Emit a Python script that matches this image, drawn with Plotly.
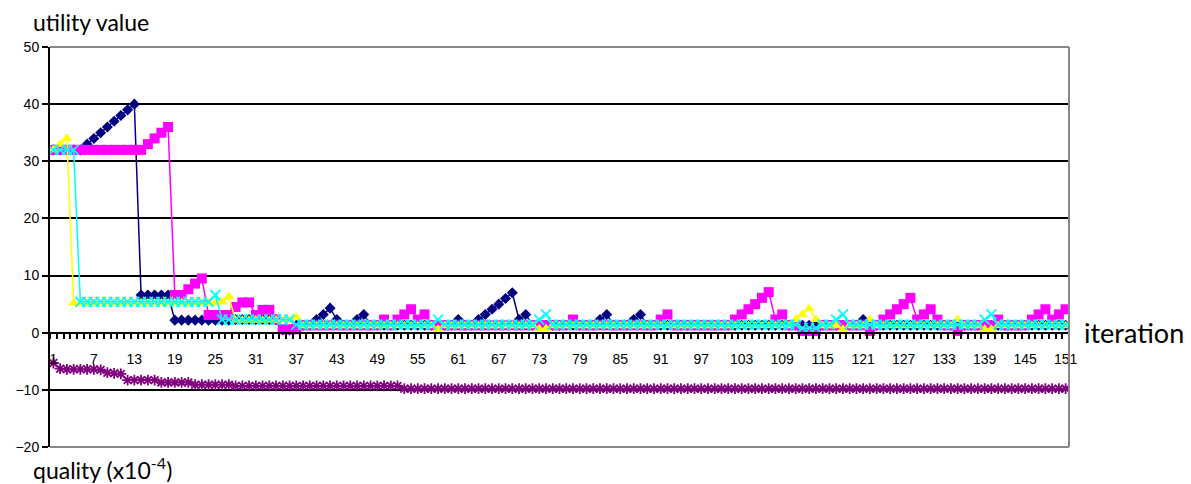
import plotly.graph_objects as go

# Iteration index (category axis) and the labelled ticks, every 6th iteration
iterations = list(range(1, 152))
tick_iterations = list(range(1, 152, 6))

# Utility value of agent 1 (navy diamonds)
agent_1 = [
    32, 32, 32, 32, 32, 33, 34, 35, 36, 37,
    38, 39, 40, 6.6, 6.6, 6.6, 6.6, 6.6, 2.2, 2.2,
    2.2, 2.2, 2.2, 2.2, 2.2, 2.2, 2.2, 2.3, 2.3, 2.3,
    2.3, 2.3, 2.3, 2.3, 0.5, 0.5, 1.3, 1.3, 1.3, 2.3,
    3.2, 4.3, 2.3, 1.3, 1.3, 2.3, 3.2, 1.3, 1.3, 1.3,
    1.3, 1.3, 1.3, 1.3, 1.3, 1.3, 1.3, 1.3, 1.3, 1.3,
    2.3, 1.3, 1.3, 2.3, 3.2, 4.1, 5.0, 6.0, 7.0, 2.3,
    3.2, 1.3, 1.3, 1.3, 1.3, 1.3, 1.3, 1.3, 1.3, 1.3,
    1.3, 2.3, 3.2, 1.3, 1.3, 1.3, 2.3, 3.2, 1.3, 1.3,
    1.3, 1.3, 1.3, 1.3, 1.3, 1.3, 1.3, 1.3, 1.3, 1.3,
    1.3, 1.3, 1.3, 1.3, 1.3, 1.3, 1.3, 1.3, 1.3, 1.3,
    1.3, 1.3, 1.3, 1.3, 1.3, 1.3, 1.3, 1.3, 1.3, 1.3,
    2.3, 1.3, 1.3, 1.3, 1.3, 1.3, 1.3, 1.3, 1.3, 1.3,
    1.3, 1.3, 1.3, 1.3, 1.3, 1.3, 1.3, 1.3, 1.3, 1.3,
    1.3, 1.3, 1.3, 1.3, 1.3, 1.3, 1.3, 1.3, 1.3, 1.3,
    1.3,
]

# Utility value of agent 2 (magenta squares)
agent_2 = [
    32, 32, 32, 32, 32, 32, 32, 32, 32, 32,
    32, 32, 32, 32, 33, 34, 35, 36, 6.6, 6.6,
    7.6, 8.6, 9.5, 3.1, 3.1, 3.1, 3.1, 4.5, 5.3, 5.3,
    3.1, 4.0, 4.0, 2.3, 0.6, 0.6, 0.6, 1.3, 1.3, 1.3,
    1.3, 1.3, 1.3, 1.3, 1.3, 1.3, 1.3, 1.3, 1.3, 2.3,
    1.3, 2.3, 3.2, 4.1, 2.3, 3.2, 1.3, 1.3, 1.3, 1.3,
    1.3, 1.3, 1.3, 1.3, 1.3, 1.3, 1.3, 1.3, 1.3, 1.3,
    1.3, 1.3, 1.3, 1.3, 1.3, 1.3, 1.3, 2.3, 1.3, 1.3,
    1.3, 1.3, 1.3, 1.3, 1.3, 1.3, 1.3, 1.3, 1.3, 1.3,
    2.3, 3.2, 1.3, 1.3, 1.3, 1.3, 1.3, 1.3, 1.3, 1.3,
    1.3, 2.3, 3.2, 4.1, 5.0, 6.1, 7.1, 2.3, 3.2, 1.3,
    1.3, 0.3, 0.3, 0.3, 1.3, 1.3, 1.3, 1.3, 1.3, 1.3,
    1.3, 0.3, 1.3, 2.3, 3.2, 4.1, 5.0, 6.1, 2.3, 3.2,
    4.1, 2.3, 1.3, 1.3, 0.3, 1.3, 1.3, 1.3, 1.3, 1.3,
    2.3, 1.3, 1.3, 1.3, 1.3, 2.3, 3.2, 4.1, 2.3, 3.2,
    4.1,
]

# Utility value of agent 3 (yellow triangles)
agent_3 = [
    32, 33, 34, 5.2, 5.2, 5.2, 5.2, 5.2, 5.2, 5.2,
    5.2, 5.2, 5.2, 5.2, 5.2, 5.2, 5.2, 5.2, 5.2, 5.2,
    5.2, 5.2, 5.2, 5.2, 5.2, 5.4, 6.3, 2.2, 2.2, 2.2,
    2.2, 2.2, 2.2, 2.2, 2.2, 2.2, 2.7, 1.2, 1.2, 1.2,
    1.2, 1.2, 1.2, 1.2, 1.2, 1.2, 1.2, 1.2, 1.2, 1.2,
    1.2, 1.2, 1.2, 1.2, 1.2, 1.2, 1.2, 0.6, 1.2, 1.2,
    1.2, 1.2, 1.2, 1.2, 1.2, 1.2, 1.2, 1.2, 1.2, 1.2,
    1.2, 1.2, 0.7, 0.7, 1.2, 1.2, 1.2, 1.2, 1.2, 1.2,
    1.2, 1.2, 1.2, 1.2, 1.2, 1.2, 1.2, 1.2, 1.2, 1.2,
    1.2, 1.2, 1.2, 1.2, 1.2, 1.2, 1.2, 1.2, 1.2, 1.2,
    1.2, 1.2, 1.2, 1.2, 1.2, 1.2, 1.2, 1.2, 1.2, 1.2,
    2.3, 3.2, 4.2, 2.3, 1.2, 1.2, 1.2, 0.6, 1.2, 1.2,
    1.2, 2.3, 1.2, 1.2, 1.2, 1.2, 1.2, 1.2, 1.2, 1.2,
    1.2, 1.2, 1.2, 1.2, 2.3, 1.2, 1.2, 1.2, 0.6, 0.6,
    1.2, 1.2, 1.2, 1.2, 1.2, 1.2, 1.2, 1.2, 1.2, 1.2,
    1.2,
]

# Utility value of agent 4 (cyan crosses)
agent_4 = [
    32, 32, 32, 32, 5.4, 5.4, 5.4, 5.4, 5.4, 5.4,
    5.4, 5.4, 5.4, 5.4, 5.4, 5.4, 5.4, 5.4, 5.4, 5.4,
    5.4, 5.4, 5.4, 5.4, 6.6, 2.3, 2.3, 2.3, 2.3, 2.3,
    2.3, 2.3, 2.3, 2.3, 2.3, 2.3, 1.4, 1.4, 1.4, 1.4,
    1.4, 1.4, 1.4, 1.4, 1.4, 1.4, 1.4, 1.4, 1.4, 1.4,
    1.4, 1.4, 1.4, 1.4, 1.4, 1.4, 1.4, 2.3, 1.4, 1.4,
    1.4, 1.4, 1.4, 1.4, 1.4, 1.4, 1.4, 1.4, 1.4, 1.4,
    1.4, 1.4, 2.3, 3.2, 1.4, 1.4, 1.4, 1.4, 1.4, 1.4,
    1.4, 1.4, 1.4, 1.4, 1.4, 1.4, 1.4, 1.4, 1.4, 1.4,
    1.4, 1.4, 1.4, 1.4, 1.4, 1.4, 1.4, 1.4, 1.4, 1.4,
    1.4, 1.4, 1.4, 1.4, 1.4, 1.4, 1.4, 1.4, 1.4, 1.4,
    1.4, 0.8, 0.8, 0.8, 1.4, 1.4, 2.3, 3.2, 1.4, 1.4,
    1.4, 1.4, 1.4, 1.4, 1.4, 1.4, 1.4, 1.4, 1.4, 1.4,
    1.4, 1.4, 1.4, 1.4, 1.4, 1.4, 1.4, 1.4, 2.3, 3.2,
    1.4, 1.4, 1.4, 1.4, 1.4, 1.4, 1.4, 1.4, 1.4, 1.4,
    1.4,
]

# Solution quality (x10^-4), plotted below zero (purple stars)
quality = (
    [-5.3]
    + [-6.3, -6.4, -6.4, -6.4, -6.4, -6.4, -6.5]
    + [-7.0, -7.1, -7.2]
    + [-8.3] * 5
    + [-8.7] * 5
    + [-9.1] * 6
    + [-9.3] * 25
    + [-9.8] * 99
)

series = [
    ("agent 1", agent_1, "#000080", "diamond", 8.5),
    ("agent 2", agent_2, "#FF00FF", "square", 10),
    ("agent 3", agent_3, "#FFFF00", "triangle-up", 10),
    ("agent 4", agent_4, "#00FFFF", "x-thin", 10),
    ("quality", quality, "#800080", "asterisk", 9),
]

fig = go.Figure()
for name, values, color, symbol, size in series:
    line_only = symbol in ("x-thin", "asterisk")
    fig.add_trace(go.Scatter(
        x=iterations, y=values, name=name, mode="lines+markers",
        line=dict(color=color, width=1.5),
        marker=dict(symbol=symbol, size=size, color=color,
                    line=dict(color=color, width=1.8 if line_only else 0)),
        showlegend=False,
    ))

x_lo, x_hi = 0.5, 151.5
y_lo, y_hi = -20, 50

fig.update_layout(
    width=1191, height=484,
    margin=dict(l=50, r=122, t=47, b=37),
    paper_bgcolor="white", plot_bgcolor="white",
    xaxis=dict(
        range=[x_lo, x_hi], anchor="free", position=(0 - y_lo) / (y_hi - y_lo),
        tickmode="array", tickvals=tick_iterations,
        ticktext=[str(v) for v in tick_iterations],
        ticks="", ticklabelstandoff=13,
        tickfont=dict(family="Arial", size=14, color="black"),
        showgrid=False, zeroline=False,
        showline=True, linecolor="black", linewidth=2,
        minor=dict(tickmode="linear", tick0=0.5, dtick=1, ticks="outside",
                   ticklen=5, tickwidth=1.5, tickcolor="black", showgrid=False),
    ),
    yaxis=dict(
        range=[y_lo, y_hi], tickmode="linear", tick0=0, dtick=10,
        ticks="outside", ticklen=6, tickwidth=2, tickcolor="black",
        tickfont=dict(family="Arial", size=14, color="black"),
        showgrid=True, gridcolor="black", gridwidth=2,
        zeroline=False, showline=True, linecolor="black", linewidth=2,
    ),
    shapes=[
        dict(type="line", xref="paper", yref="paper", x0=0, x1=1, y0=1, y1=1,
             line=dict(color="#888888", width=2), layer="above"),
        dict(type="line", xref="paper", yref="paper", x0=1, x1=1, y0=0, y1=1,
             line=dict(color="#888888", width=2), layer="above"),
        dict(type="line", xref="paper", yref="paper", x0=0, x1=1, y0=0, y1=0,
             line=dict(color="#888888", width=2), layer="above"),
    ],
    annotations=[
        dict(text="utility value", xref="paper", yref="paper",
             x=-0.0186, y=1.0625, xanchor="left", yanchor="middle", showarrow=False,
             font=dict(family="Lato", size=23, color="black")),
        dict(text="quality (x10<sup>-4</sup>)", xref="paper", yref="paper",
             x=-0.0186, y=-0.0525, xanchor="left", yanchor="middle", showarrow=False,
             font=dict(family="Lato", size=23, color="black")),
        dict(text="iteration", xref="paper", yref="y",
             x=1.0128, y=0, xanchor="left", yanchor="middle", showarrow=False,
             font=dict(family="Lato", size=27, color="black")),
        dict(text="(a)", xref="paper", yref="paper",
             x=(611 - 50) / 1019, y=1.15, xanchor="center", yanchor="middle", showarrow=False,
             font=dict(family="Liberation Serif", size=22, color="black")),
    ],
)

fig.write_html("out.html")
